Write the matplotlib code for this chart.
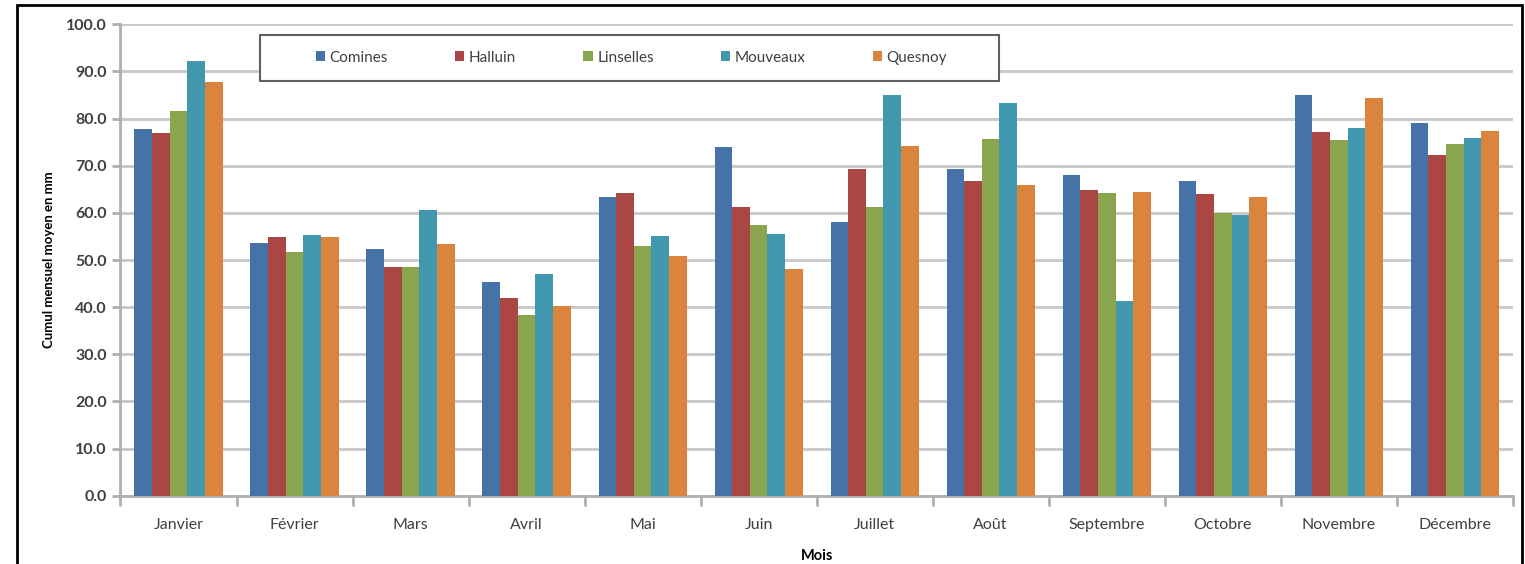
import numpy as np
import matplotlib.pyplot as plt
from matplotlib.patches import Rectangle

mois = ["Janvier", "Février", "Mars", "Avril", "Mai", "Juin", "Juillet",
        "Août", "Septembre", "Octobre", "Novembre", "Décembre"]
stations = ["Comines", "Halluin", "Linselles", "Mouveaux", "Quesnoy"]

comines = [77.7, 53.7, 52.4, 45.3, 63.4, 74.0, 58.0, 69.2, 68.1, 66.7, 85.0, 79.0]
halluin = [77.0, 54.9, 48.6, 42.0, 64.3, 61.3, 69.2, 66.7, 64.8, 64.0, 77.1, 72.3]
linselles = [81.5, 51.6, 48.6, 38.3, 52.9, 57.5, 61.3, 75.6, 64.3, 59.9, 75.4, 74.7]
mouveaux = [92.3, 55.4, 60.7, 47.0, 55.1, 55.6, 85.0, 83.4, 41.3, 59.5, 78.0, 75.8]
quesnoy = [87.8, 54.9, 53.3, 40.3, 50.8, 48.1, 74.2, 65.9, 64.5, 63.3, 84.3, 77.4]

couleurs = ["#4572A7", "#AA4643", "#89A54E", "#4198AF", "#DB843D"]

plt.rcParams['font.family'] = ['Lato', 'DejaVu Sans']
txt = "#404040"

fig = plt.figure(figsize=(15.25, 5.64), dpi=100)
ax = fig.add_axes([0.079, 0.121, 0.913, 0.836])

series = [comines, halluin, linselles, mouveaux, quesnoy]
x = np.arange(len(mois))
w = 0.152
for i, (nom, vals) in enumerate(zip(stations, series)):
    ax.bar(x + (i - 2) * w, vals, width=w, color=couleurs[i], label=nom, zorder=3)

ax.set_xlim(-0.5, len(mois) - 0.5)
ax.set_ylim(0, 100)
ax.set_yticks(np.arange(0, 101, 10))
ax.set_yticklabels([f"{v:.1f}" for v in np.arange(0, 101, 10)],
                   fontsize=11.5, color=txt, fontweight='bold')
ax.set_xticks(x)
ax.set_xticklabels(mois, fontsize=11.5, color=txt)
ax.set_xticks(np.arange(-0.5, len(mois) + 0.5, 1), minor=True)
ax.tick_params(axis='x', which='major', length=0, pad=16)
ax.tick_params(axis='x', which='minor', length=7, width=2, color='#b0b0b0', direction='out')
ax.tick_params(axis='y', length=6, width=2, color='#b0b0b0', pad=4)

ax.grid(axis='y', color='#c8c8c8', lw=2, zorder=0)
for s in ['top', 'right']:
    ax.spines[s].set_visible(False)
for s in ['left', 'bottom']:
    ax.spines[s].set_color('#b0b0b0')
    ax.spines[s].set_linewidth(2)

ax.set_ylabel("Cumul mensuel moyen en mm", fontsize=9.5, fontweight='bold', labelpad=8)
ax.set_xlabel("Mois", fontsize=10.5, fontweight='bold', labelpad=12)

# cadre de la légende
ax.add_patch(Rectangle((0.0999, 0.879), 0.531, 0.0975, transform=ax.transAxes,
                       facecolor='white', edgecolor='#606060', lw=1.5,
                       zorder=4, clip_on=False))
leg = ax.legend(loc='center', bbox_to_anchor=(0.367, 0.929), ncol=5,
                fontsize=11, handlelength=0.6, handleheight=0.6,
                handletextpad=0.3, columnspacing=4.4, frameon=False,
                borderaxespad=0)
leg.set_zorder(5)
for t in leg.get_texts():
    t.set_color(txt)

fig.patches.append(Rectangle((17 / 1525, -0.1), (1522 - 17) / 1525, 1.1 - 5 / 564,
                             transform=fig.transFigure, fill=False,
                             edgecolor='black', lw=2))

fig.savefig("out.png", dpi=100)
